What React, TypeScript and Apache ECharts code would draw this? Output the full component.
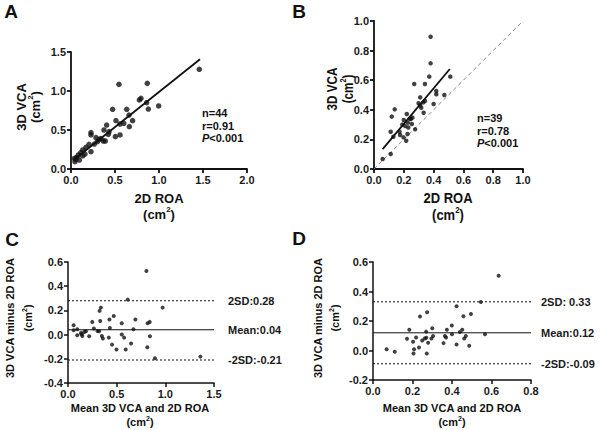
import React, { useEffect, useRef } from "react";
import * as echarts from "echarts";

const FONT = '"Liberation Sans", Arial, Helvetica, sans-serif';

// Panel A: 2D ROA vs 3D VCA
const panelAPoints: [number, number][] = [
  [1.458, 1.278], [0.545, 1.085], [0.867, 1.098], [0.777, 0.885], [0.795, 0.906],
  [0.86, 0.85], [0.996, 0.808], [0.879, 0.769], [0.473, 0.765], [0.633, 0.765],
  [0.659, 0.692], [0.70, 0.62], [0.511, 0.62], [0.60, 0.585], [0.557, 0.577],
  [0.663, 0.543], [0.405, 0.564], [0.375, 0.50], [0.432, 0.479], [0.557, 0.436],
  [0.504, 0.415], [0.424, 0.444], [0.227, 0.466], [0.227, 0.436], [0.284, 0.402],
  [0.367, 0.359], [0.39, 0.359], [0.30, 0.35], [0.265, 0.32], [0.205, 0.316],
  [0.17, 0.278], [0.227, 0.222], [0.133, 0.244], [0.11, 0.209], [0.083, 0.18],
  [0.064, 0.15], [0.038, 0.137], [0.045, 0.094], [0.095, 0.115], [0.133, 0.167],
  [0.159, 0.192], [0.322, 0.38], [0.053, 0.124], [0.34, 0.39],
];
const panelAFitCoef = [0.087, 0.9]; // intercept, slope
const panelAFitRange = [0.045, 1.466];
const panelAStats = ["n=44", "r=0.91", "P<0.001"];

// Panel B
const panelBPoints: [number, number][] = [
  [0.38, 0.894], [0.38, 0.714], [0.371, 0.624], [0.512, 0.624], [0.27, 0.574],
  [0.342, 0.574], [0.31, 0.484], [0.418, 0.527], [0.418, 0.505], [0.472, 0.50],
  [0.342, 0.459], [0.299, 0.444], [0.317, 0.414], [0.40, 0.439], [0.333, 0.38],
  [0.139, 0.403], [0.119, 0.354], [0.22, 0.372], [0.258, 0.347], [0.247, 0.338],
  [0.20, 0.331], [0.227, 0.313], [0.209, 0.29], [0.254, 0.304], [0.276, 0.268],
  [0.112, 0.252], [0.171, 0.252], [0.225, 0.236], [0.198, 0.214], [0.216, 0.191],
  [0.13, 0.218], [0.112, 0.101], [0.058, 0.068], [0.175, 0.23], [0.24, 0.34],
  [0.31, 0.43], [0.19, 0.30], [0.33, 0.45], [0.23, 0.28],
];
const panelBFitCoef = [0.065, 1.2];
const panelBFitRange = [0.058, 0.509];
const panelBIdentity = [0, 1];
const panelBStats = ["n=39", "r=0.78", "P<0.001"];

// Panel C: Bland-Altman
const panelCPoints: [number, number][] = [
  [0.805, 0.526], [0.614, 0.289], [0.972, 0.223], [0.338, 0.223], [0.324, 0.196],
  [0.47, 0.154], [0.692, 0.124], [0.426, 0.124], [0.249, 0.105], [0.331, 0.113],
  [0.552, 0.094], [0.839, 0.105], [0.818, 0.094], [0.058, 0.077], [0.095, 0.044],
  [0.266, 0.05], [0.303, 0.03], [0.32, 0.028], [0.43, 0.055], [0.672, 0.044],
  [0.184, 0.028], [0.167, 0.022], [0.058, 0.036], [0.133, 0.014], [0.095, -0.005],
  [0.14, 0.003], [0.348, -0.011], [0.552, 0.0], [0.576, -0.025], [0.842, -0.014],
  [0.358, -0.033], [0.419, -0.025], [0.218, -0.014], [0.648, -0.074], [0.453, -0.083],
  [0.498, -0.124], [0.593, -0.124], [0.815, -0.105], [0.893, -0.196], [1.36, -0.182],
  [0.147, -0.011],
];
const panelCLevels = [0.28, 0.04, -0.21];
const panelCLabels = ["2SD:0.28", "Mean:0.04", "-2SD:-0.21"];

// Panel D
const panelDPoints: [number, number][] = [
  [0.636, 0.507], [0.546, 0.329], [0.423, 0.30], [0.496, 0.248], [0.458, 0.232],
  [0.238, 0.23], [0.274, 0.259], [0.399, 0.169], [0.30, 0.151], [0.184, 0.14],
  [0.374, 0.14], [0.452, 0.14], [0.44, 0.126], [0.269, 0.128], [0.567, 0.11],
  [0.40, 0.11], [0.47, 0.099], [0.364, 0.099], [0.37, 0.088], [0.304, 0.099],
  [0.218, 0.088], [0.27, 0.086], [0.172, 0.079], [0.296, 0.081], [0.462, 0.081],
  [0.262, 0.081], [0.249, 0.068], [0.203, 0.059], [0.279, 0.052], [0.357, 0.05],
  [0.423, 0.041], [0.487, 0.032], [0.233, 0.02], [0.208, 0.009], [0.069, 0.009],
  [0.11, -0.009], [0.205, -0.02], [0.272, -0.02],
];
const panelDLevels = [0.33, 0.12, -0.09];
const panelDLabels = ["2SD: 0.33", "Mean:0.12", "-2SD:-0.09"];

const fmt = (v: number) => (Math.abs(v) < 1e-9 ? "0.0" : v.toFixed(1));

function axis(gridIndex: number, min: number, max: number, interval: number, width: number) {
  return {
    type: "value",
    gridIndex,
    min,
    max,
    interval,
    axisLine: { show: true, onZero: false, lineStyle: { color: "#111", width } },
    axisTick: { show: true, length: 4, lineStyle: { color: "#111", width } },
    splitLine: { show: false },
    axisLabel: {
      fontSize: 11,
      fontWeight: "bold",
      color: "#1a1a1a",
      fontFamily: FONT,
      margin: 5,
      formatter: fmt,
    },
  };
}

function fitLine(coef: number[], range: number[]) {
  return range.map((x) => [x, coef[0] + coef[1] * x]);
}

function levelSeries(idx: number, levels: number[], labels: string[], xMax: number, dist: number) {
  return levels.map((lv, i) => ({
    type: "line",
    xAxisIndex: idx,
    yAxisIndex: idx,
    data: [
      [0, lv],
      [xMax, lv],
    ],
    symbol: "none",
    lineStyle: { color: "#111", width: 1, type: i === 1 ? "solid" : [2, 2] },
    endLabel: {
      show: true,
      formatter: labels[i],
      distance: dist,
      fontSize: 11,
      fontWeight: "bold",
      fontFamily: FONT,
      color: "#1a1a1a",
    },
    z: 1,
  }));
}

function txt(x: number, y: number, text: string, size: number, opts: any = {}) {
  const supSize = Math.round(size * 0.62);
  return {
    type: "text",
    x,
    y,
    rotation: opts.rotate ? Math.PI / 2 : 0,
    scaleX: opts.sx || 1,
    scaleY: opts.sy || 1,
    silent: true,
    style: {
      text,
      fill: "#111",
      font: `${opts.weight || "bold"} ${size}px ${FONT}`,
      align: opts.align || "center",
      verticalAlign: "middle",
      textAlign: opts.align || "center",
      textVerticalAlign: "middle",
      rich: {
        i: { fontStyle: "italic", fontWeight: "bold", fontSize: size, fontFamily: FONT, fill: "#111" },
        n: { fontWeight: "bold", fontSize: size, fontFamily: FONT, fill: "#111", lineHeight: size + 2, verticalAlign: "bottom" },
        s: { fontWeight: "bold", fontSize: supSize, fontFamily: FONT, fill: "#111", verticalAlign: "top", lineHeight: size + 2 },
      },
    },
  };
}

// "(cm2)" with a raised 2
const CM2 = "{n|(cm}{s|2}{n|)}";

function statsText(x: number, y: number, lines: string[]) {
  return lines.map((l, i) =>
    txt(x, y + i * 12.5, l.startsWith("P") ? "{i|P}" + l.slice(1) : l, 11, { align: "left" })
  );
}

export default function App() {
  const ref = useRef<HTMLDivElement>(null);
  useEffect(() => {
    if (!ref.current) return;
    const chart = echarts.init(ref.current, null, { renderer: "svg" });
    const option: any = {
      animation: false,
      backgroundColor: "#fff",
      grid: [
        { left: 71, top: 52, width: 176, height: 117 },
        { left: 374, top: 21, width: 149, height: 148 },
        { left: 68, top: 262, width: 146, height: 121 },
        { left: 373, top: 262, width: 158, height: 118 },
      ],
      xAxis: [
        axis(0, 0, 2, 0.5, 1.8),
        axis(1, 0, 1, 0.2, 1.8),
        axis(2, 0, 1.5, 0.5, 1.5),
        axis(3, 0, 0.8, 0.2, 1.5),
      ],
      yAxis: [
        axis(0, 0, 1.5, 0.5, 1.8),
        axis(1, 0, 1, 0.2, 1.8),
        axis(2, -0.4, 0.6, 0.2, 1.5),
        axis(3, -0.2, 0.6, 0.2, 1.5),
      ],
      series: [
        {
          type: "scatter", xAxisIndex: 0, yAxisIndex: 0, data: panelAPoints,
          symbolSize: 5.5, itemStyle: { color: "#111" }, z: 3,
        },
        {
          type: "line", xAxisIndex: 0, yAxisIndex: 0, data: fitLine(panelAFitCoef, panelAFitRange),
          symbol: "none", lineStyle: { color: "#111", width: 1.8 }, z: 2,
        },
        {
          type: "line", xAxisIndex: 1, yAxisIndex: 1,
          data: panelBIdentity.map((v) => [v, v]),
          symbol: "none", lineStyle: { color: "#888", width: 1, type: [4, 3] }, z: 1,
        },
        {
          type: "scatter", xAxisIndex: 1, yAxisIndex: 1, data: panelBPoints,
          symbolSize: 4.5, itemStyle: { color: "#111" }, z: 3,
        },
        {
          type: "line", xAxisIndex: 1, yAxisIndex: 1, data: fitLine(panelBFitCoef, panelBFitRange),
          symbol: "none", lineStyle: { color: "#111", width: 1.8 }, z: 2,
        },
        {
          type: "scatter", xAxisIndex: 2, yAxisIndex: 2, data: panelCPoints,
          symbolSize: 4, itemStyle: { color: "#111" }, z: 3,
        },
        ...levelSeries(2, panelCLevels, panelCLabels, 1.5, 14),
        {
          type: "scatter", xAxisIndex: 3, yAxisIndex: 3, data: panelDPoints,
          symbolSize: 4, itemStyle: { color: "#111" }, z: 3,
        },
        ...levelSeries(3, panelDLevels, panelDLabels, 0.8, 10),
      ],
      graphic: [
        txt(11, 11, "A", 19),
        txt(299, 11, "B", 19),
        txt(12, 239, "C", 19),
        txt(299, 238, "D", 19),
        // panel A titles
        txt(21, 107, "3D VCA", 13, { rotate: true }),
        txt(34, 107, CM2, 13, { rotate: true }),
        txt(159, 198, "2D ROA", 13),
        txt(159, 213, CM2, 13),
        // panel B titles
        txt(332, 89, "3D VCA", 13, { rotate: true, sx: 0.9, sy: 1.15 }),
        txt(347, 89, CM2, 13, { rotate: true, sx: 0.9, sy: 1.15 }),
        txt(448, 198, "2D ROA", 13, { sy: 1.15 }),
        txt(448, 214, CM2, 13, { sy: 1.15 }),
        // panel C titles
        txt(10, 318, "3D VCA minus 2D ROA", 11, { rotate: true }),
        txt(27, 318, CM2, 11, { rotate: true }),
        txt(140, 408, "Mean 3D VCA and 2D ROA", 11),
        txt(140, 421, CM2, 11),
        // panel D titles
        txt(318, 318, "3D VCA minus 2D ROA", 11, { rotate: true }),
        txt(334, 318, CM2, 11, { rotate: true }),
        txt(452, 408, "Mean 3D VCA and 2D ROA", 11),
        txt(452, 421, CM2, 11),
        ...statsText(202, 113, panelAStats),
        ...statsText(477, 118, panelBStats),
      ],
    };
    chart.setOption(option);
    return () => chart.dispose();
  }, []);
  return (
    <div
      ref={ref}
      style={{ position: "absolute", left: 0, top: 0, width: 600, height: 430, background: "#fff" }}
    />
  );
}
